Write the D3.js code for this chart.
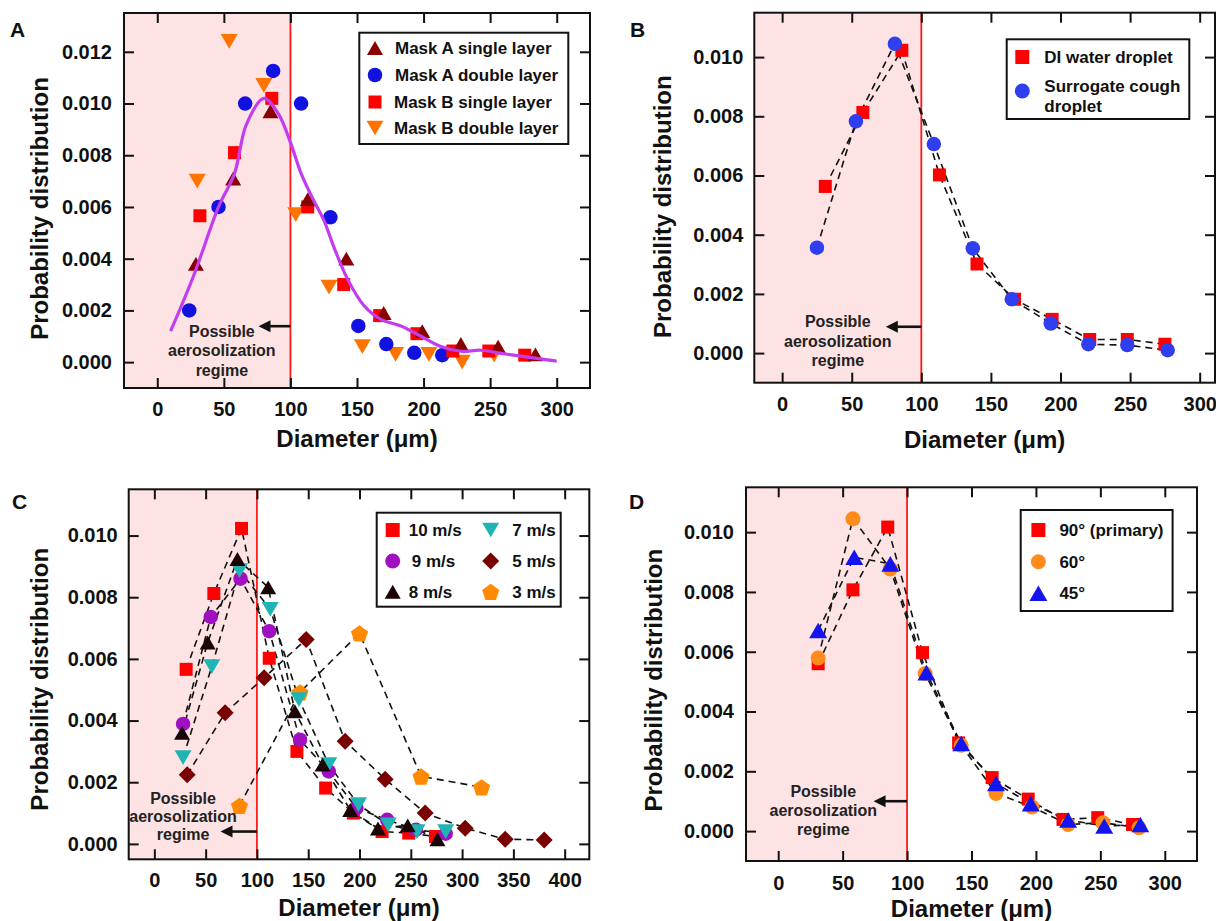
<!DOCTYPE html>
<html>
<head>
<meta charset="utf-8">
<script src="https://cdn.jsdelivr.net/npm/d3@7"></script>
<style>
  body { margin: 0; background: #fff; }
  svg { display: block; font-family: "Liberation Sans", Arial, sans-serif; font-weight: bold; }
</style>
</head>
<body>
<svg id="fig" width="1216" height="921"></svg>
<script>
// ---- Panel A : masks ----
const aSingleX = [29, 57, 85, 113, 142, 170, 199, 228, 256, 284];
const aSingleY = [0.0038, 0.0071, 0.0097, 0.0063, 0.0040, 0.0019, 0.0012, 0.0007, 0.0006, 0.0003];
const aDoubleX = [24, 46, 66, 87, 108, 130, 151, 172, 193, 214];
const aDoubleY = [0.0020, 0.0060, 0.0100, 0.01126, 0.0100, 0.0056, 0.0014, 0.0007, 0.00036, 0.00027];
const bSingleX = [32, 58, 86, 113, 140, 167, 195, 222, 249, 276];
const bSingleY = [0.00566, 0.0081, 0.0102, 0.0060, 0.0030, 0.0018, 0.0011, 0.00043, 0.00043, 0.00027];
const bDoubleX = [30, 54, 80, 104, 129, 154, 179, 204, 229, 253];
const bDoubleY = [0.0070, 0.0124, 0.0107, 0.0057, 0.0029, 0.0006, 0.0003, 0.0003, 0.0000, 0.00027];
// fitted curve (magenta)
const fitX = [10, 27, 46, 58, 67, 80, 91, 100, 108, 117, 125, 133, 143, 155, 168, 183, 198, 213, 228, 243, 258, 273, 300];
const fitY = [0.0012, 0.0033, 0.0060, 0.0073, 0.0092, 0.0102, 0.0096, 0.0085, 0.0073, 0.0063, 0.0055, 0.0044, 0.0032, 0.0022, 0.00165, 0.0014, 0.0010, 0.0006, 0.00042, 0.00046, 0.00034, 0.00023, 0.00004];

// ---- Panel B : fluids ----
const diX = [31, 58, 86, 113, 140, 167, 194, 221, 248, 275];
const diY = [0.00563, 0.00813, 0.01023, 0.00602, 0.00301, 0.00182, 0.00114, 0.00046, 0.00046, 0.0003];
const coughX = [25, 53, 81, 109, 137, 165, 193, 220, 248, 277];
const coughY = [0.00356, 0.00783, 0.01045, 0.00706, 0.00354, 0.00182, 0.0010, 0.0003, 0.00027, 0.0001];

// ---- Panel C : velocities ----
const c10X = [31, 58, 85, 112, 139, 167, 194, 222, 248, 274];
const c10Y = [0.00566, 0.00812, 0.01023, 0.00602, 0.0030, 0.00181, 0.0010, 0.0004, 0.00035, 0.00024];
const c9X = [28, 55, 84, 112, 142, 170, 197, 227, 255, 284];
const c9Y = [0.00389, 0.00736, 0.0086, 0.0069, 0.00338, 0.00235, 0.00116, 0.00078, 0.00046, 0.00033];
const c8X = [27, 52, 81, 111, 137, 164, 191, 218, 247, 276];
const c8Y = [0.0036, 0.00653, 0.00924, 0.00832, 0.0043, 0.00257, 0.0011, 0.0005, 0.0006, 0.00015];
const c7X = [28, 56, 83, 113, 141, 170, 199, 228, 256, 284];
const c7Y = [0.0028, 0.00575, 0.00886, 0.00761, 0.00468, 0.00257, 0.00127, 0.00062, 0.0004, 0.0004];
const c5X = [32, 69, 107, 148, 186, 225, 264, 303, 342, 380];
const c5Y = [0.00224, 0.00425, 0.00539, 0.00663, 0.00333, 0.0021, 0.001, 0.00051, 0.00015, 0.00013];
const c3X = [83, 142, 200, 260, 319];
const c3Y = [0.00124, 0.00492, 0.00683, 0.00219, 0.00184];

// ---- Panel D : angles ----
const d90X = [31, 58, 85, 112, 140, 166, 194, 221, 248, 275];
const d90Y = [0.0056, 0.00807, 0.01017, 0.00597, 0.00295, 0.00179, 0.00107, 0.00039, 0.00045, 0.00022];
const d60X = [31, 58, 87, 114, 142, 169, 197, 225, 252, 280];
const d60Y = [0.00579, 0.01045, 0.00877, 0.00527, 0.00287, 0.00126, 0.00081, 0.00022, 0.00028, 0.00011];
const d45X = [31, 59, 87, 115, 142, 169, 196, 225, 253, 281];
const d45Y = [0.00671, 0.00916, 0.00894, 0.0053, 0.00293, 0.00159, 0.00092, 0.00037, 0.00017, 0.00022];

// ticks
const xTicks300 = [0, 50, 100, 150, 200, 250, 300];
const xTicks400 = [0, 50, 100, 150, 200, 250, 300, 350, 400];
const yTicks12 = [0, 0.002, 0.004, 0.006, 0.008, 0.010, 0.012];
const yTicks10 = [0, 0.002, 0.004, 0.006, 0.008, 0.010];

const aerosolText = ['Possible', 'aerosolization', 'regime'];

const svg = d3.select('#fig');
const zip = (xs, ys) => xs.map((v, i) => [v, ys[i]]);

function markerPath(type, s) {
  const r = s / 2;
  if (type === 'square') return `M${-r},${-r}H${r}V${r}H${-r}Z`;
  if (type === 'circle') return `M${r},0A${r},${r} 0 1,1 ${-r},0A${r},${r} 0 1,1 ${r},0Z`;
  const hh = s * Math.sqrt(3) / 2;
  if (type === 'triUp') return `M0,${-hh / 2}L${r},${hh / 2}L${-r},${hh / 2}Z`;
  if (type === 'triDown') return `M0,${hh / 2}L${r},${-hh / 2}L${-r},${-hh / 2}Z`;
  if (type === 'diamond') return `M0,${-r}L${r},0L0,${r}L${-r},0Z`;
  // pentagon
  const pts = d3.range(5).map(k => {
    const a = -Math.PI / 2 + k * 2 * Math.PI / 5;
    return [r * Math.cos(a), r * Math.sin(a) + 1];
  });
  return d3.line()(pts) + 'Z';
}

function drawPanel(cfg) {
  const w = cfg.right - cfg.left, h = cfg.bottom - cfg.top;
  const g = svg.append('g').attr('transform', `translate(${cfg.left},${cfg.top})`);
  const x = d3.scaleLinear().domain(cfg.xDomain).range([0, w]);
  const y = d3.scaleLinear().domain(cfg.yDomain).range([h, 0]);

  // aerosolization regime shading
  g.append('rect').attr('x', 0).attr('y', 0)
    .attr('width', x(100)).attr('height', h)
    .attr('fill', '#fde3e3');
  g.append('line')
    .attr('x1', x(100)).attr('x2', x(100)).attr('y1', 0).attr('y2', h)
    .attr('stroke', '#ff1a1a').attr('stroke-width', 1.8);

  // axes with inward ticks on all four sides
  const fmtY = d3.format('.3f');
  const axB = g.append('g').attr('transform', `translate(0,${h})`)
    .call(d3.axisBottom(x).tickValues(cfg.xTicks).tickSize(-10).tickPadding(cfg.xPad).tickFormat(d3.format('d')));
  const axT = g.append('g')
    .call(d3.axisTop(x).tickValues(cfg.xTicks).tickSize(-10).tickFormat(''));
  const axL = g.append('g')
    .call(d3.axisLeft(y).tickValues(cfg.yTicks).tickSize(-10).tickPadding(cfg.yPad).tickFormat(fmtY));
  const axR = g.append('g').attr('transform', `translate(${w},0)`)
    .call(d3.axisRight(y).tickValues(cfg.yTicks).tickSize(-10).tickFormat(''));
  [axB, axT, axL, axR].forEach(a => {
    a.select('.domain').remove();
    a.selectAll('line').attr('stroke', '#111').attr('stroke-width', 2);
    a.selectAll('text').attr('fill', '#111')
      .style('font-size', '20px').style('font-family', '"Liberation Sans", Arial, sans-serif')
      .style('font-weight', 'bold');
  });

  g.append('rect').attr('width', w).attr('height', h)
    .attr('fill', 'none').attr('stroke', '#111').attr('stroke-width', 2);

  const line = d3.line().x(d => x(d[0])).y(d => y(d[1]));

  // dashed connecting lines
  cfg.series.filter(s => s.dashed).forEach(s => {
    g.append('path').datum(zip(s.xs, s.ys))
      .attr('d', line).attr('fill', 'none')
      .attr('stroke', '#111').attr('stroke-width', 1.6)
      .attr('stroke-dasharray', '7,5');
  });

  // markers
  cfg.series.forEach(s => {
    g.append('g').selectAll('path')
      .data(zip(s.xs, s.ys))
      .join('path')
      .attr('transform', d => `translate(${x(d[0])},${y(d[1])})`)
      .attr('d', markerPath(s.shape, s.size))
      .attr('fill', s.color);
  });

  // fitted curve
  if (cfg.fit) {
    g.append('path').datum(zip(cfg.fit.xs, cfg.fit.ys))
      .attr('d', d3.line().x(d => x(d[0])).y(d => y(d[1])).curve(d3.curveCatmullRom.alpha(0.5)))
      .attr('fill', 'none').attr('stroke', cfg.fit.color).attr('stroke-width', 3.2);
  }

  // annotation
  const an = cfg.note;
  const t = g.append('text').attr('text-anchor', 'middle')
    .attr('fill', '#222').style('font-size', '16px');
  aerosolText.forEach((s, i) => {
    t.append('tspan').attr('x', x(an.tx)).attr('y', y(an.ty) + i * an.lh).text(s);
  });
  const ay = y(an.ay), ax0 = x(100), ax1 = x(an.ax);
  g.append('line').attr('x1', ax0).attr('x2', ax1 + 8).attr('y1', ay).attr('y2', ay)
    .attr('stroke', '#111').attr('stroke-width', 2.6);
  g.append('path')
    .attr('d', `M${ax1},${ay}L${ax1 + 12},${ay - 6}L${ax1 + 12},${ay + 6}Z`)
    .attr('fill', '#111');

  // legend
  const lg = cfg.legend;
  g.append('rect').attr('x', lg.box[0]).attr('y', lg.box[1])
    .attr('width', lg.box[2] - lg.box[0]).attr('height', lg.box[3] - lg.box[1])
    .attr('fill', '#fff').attr('stroke', '#111').attr('stroke-width', 2);
  lg.items.forEach(it => {
    g.append('path')
      .attr('transform', `translate(${it.sx},${it.sy})`)
      .attr('d', markerPath(it.shape, it.size)).attr('fill', it.color);
    const tt = g.append('text').attr('fill', '#111').style('font-size', '17px');
    it.label.forEach((s, i) => {
      tt.append('tspan').attr('x', it.tx).attr('y', it.ty + i * 20).text(s);
    });
  });

  // titles
  svg.append('text').attr('x', cfg.left + w / 2).attr('y', cfg.xTitleY)
    .attr('text-anchor', 'middle').attr('fill', '#111').style('font-size', '24px')
    .text('Diameter (μm)');
  svg.append('text')
    .attr('transform', `translate(${cfg.yTitleX},${cfg.top + h / 2 + cfg.yTitleShift}) rotate(-90)`)
    .attr('text-anchor', 'middle').attr('fill', '#111').style('font-size', '24px')
    .text('Probability distribution');
  svg.append('text').attr('x', cfg.letterX).attr('y', cfg.letterY)
    .attr('fill', '#111').style('font-size', '21px').text(cfg.letter);
}

// Panel A
drawPanel({
  letter: 'A', letterX: 10, letterY: 37,
  left: 124, top: 13, right: 590, bottom: 388,
  xDomain: [-25, 325], yDomain: [-0.001, 0.0135],
  xTicks: xTicks300, yTicks: yTicks12, xPad: 14, yPad: 12,
  xTitleY: 447, yTitleX: 48, yTitleShift: 8,
  series: [
    {xs: bDoubleX, ys: bDoubleY, shape: 'triDown', size: 17, color: '#ff7400'},
    {xs: aDoubleX, ys: aDoubleY, shape: 'circle', size: 14.5, color: '#1212e0'},
    {xs: bSingleX, ys: bSingleY, shape: 'square', size: 13, color: '#ff0000'},
    {xs: aSingleX, ys: aSingleY, shape: 'triUp', size: 16, color: '#880000'}
  ],
  fit: {xs: fitX, ys: fitY, color: '#c43cf0'},
  note: {tx: 48.5, ty: 0.00099, lh: 19.5, ax: 76, ay: 0.00139},
  legend: {
    box: [235.3, 19.7, 444.3, 131],
    items: [
      {shape: 'triUp', size: 16, color: '#880000', sx: 251, sy: 35, tx: 271, ty: 41, label: ['Mask A single layer']},
      {shape: 'circle', size: 14.5, color: '#1212e0', sx: 251, sy: 62, tx: 271, ty: 68, label: ['Mask A double layer']},
      {shape: 'square', size: 13, color: '#ff0000', sx: 251, sy: 89, tx: 270, ty: 95, label: ['Mask B single layer']},
      {shape: 'triDown', size: 17, color: '#ff7400', sx: 251, sy: 115, tx: 270, ty: 121, label: ['Mask B double layer']}
    ]
  }
});

// Panel B
drawPanel({
  letter: 'B', letterX: 630, letterY: 37,
  left: 754.3, top: 12.7, right: 1215, bottom: 382.7,
  xDomain: [-20, 311], yDomain: [-0.001, 0.0115],
  xTicks: xTicks300, yTicks: yTicks10, xPad: 14, yPad: 11,
  xTitleY: 448, yTitleX: 671, yTitleShift: 9,
  series: [
    {xs: diX, ys: diY, shape: 'square', size: 13, color: '#ff0000', dashed: true},
    {xs: coughX, ys: coughY, shape: 'circle', size: 14.5, color: '#2f3ff0', dashed: true}
  ],
  note: {tx: 40, ty: 0.00087, lh: 19.5, ax: 74.5, ay: 0.00089},
  legend: {
    box: [252.4, 26.6, 435, 106.3],
    items: [
      {shape: 'square', size: 14, color: '#ff0000', sx: 268, sy: 44.3, tx: 290, ty: 50.3, label: ['DI water droplet']},
      {shape: 'circle', size: 15, color: '#2f3ff0', sx: 268, sy: 78.3, tx: 290, ty: 79.3, label: ['Surrogate cough', 'droplet']}
    ]
  }
});

// Panel C
drawPanel({
  letter: 'C', letterX: 12, letterY: 509,
  left: 128.7, top: 489.3, right: 589.3, bottom: 859.3,
  xDomain: [-25, 424], yDomain: [-0.0005, 0.0115],
  xTicks: xTicks400, yTicks: yTicks10, xPad: 14, yPad: 11,
  xTitleY: 916, yTitleX: 48, yTitleShift: 5,
  series: [
    {xs: c10X, ys: c10Y, shape: 'square', size: 13, color: '#ff0000', dashed: true},
    {xs: c5X, ys: c5Y, shape: 'diamond', size: 17, color: '#7a0000', dashed: true},
    {xs: c3X, ys: c3Y, shape: 'pentagon', size: 18, color: '#ff8a00', dashed: true},
    {xs: c9X, ys: c9Y, shape: 'circle', size: 14.5, color: '#a010c0', dashed: true},
    {xs: c7X, ys: c7Y, shape: 'triDown', size: 17, color: '#20b4b4', dashed: true},
    {xs: c8X, ys: c8Y, shape: 'triUp', size: 16, color: '#1a0404', dashed: true}
  ],
  note: {tx: 28, ty: 0.0013, lh: 18, ax: 64.5, ay: 0.0004},
  legend: {
    box: [248, 23.4, 432, 117.4],
    items: [
      {shape: 'square', size: 14, color: '#ff0000', sx: 264, sy: 40.7, tx: 280, ty: 46.7, label: ['10 m/s']},
      {shape: 'circle', size: 15, color: '#a010c0', sx: 264, sy: 71.7, tx: 283, ty: 77.7, label: ['9 m/s']},
      {shape: 'triUp', size: 16, color: '#1a0404', sx: 264, sy: 102.4, tx: 280, ty: 108.4, label: ['8 m/s']},
      {shape: 'triDown', size: 17, color: '#20b4b4', sx: 362, sy: 40.7, tx: 383.5, ty: 46.7, label: ['7 m/s']},
      {shape: 'diamond', size: 17, color: '#7a0000', sx: 362, sy: 71.7, tx: 383.5, ty: 77.7, label: ['5 m/s']},
      {shape: 'pentagon', size: 18, color: '#ff8a00', sx: 362, sy: 102.4, tx: 383.5, ty: 108.4, label: ['3 m/s']}
    ]
  }
});

// Panel D
drawPanel({
  letter: 'D', letterX: 629, letterY: 509,
  left: 746, top: 487.3, right: 1197, bottom: 861,
  xDomain: [-25, 325], yDomain: [-0.001, 0.0115],
  xTicks: xTicks300, yTicks: yTicks10, xPad: 15, yPad: 12,
  xTitleY: 917, yTitleX: 662, yTitleShift: 6,
  series: [
    {xs: d90X, ys: d90Y, shape: 'square', size: 13, color: '#ff0000', dashed: true},
    {xs: d60X, ys: d60Y, shape: 'circle', size: 15, color: '#ff8c1a', dashed: true},
    {xs: d45X, ys: d45Y, shape: 'triUp', size: 18, color: '#1414ee', dashed: true}
  ],
  note: {tx: 35, ty: 0.00115, lh: 19, ax: 74, ay: 0.001},
  legend: {
    box: [274.7, 22.7, 426.6, 123.7],
    items: [
      {shape: 'square', size: 14, color: '#ff0000', sx: 292.4, sy: 42.7, tx: 313.4, ty: 48.7, label: ['90° (primary)']},
      {shape: 'circle', size: 15, color: '#ff8c1a', sx: 292.4, sy: 74.4, tx: 313.4, ty: 80.4, label: ['60°']},
      {shape: 'triUp', size: 18, color: '#1414ee', sx: 292.4, sy: 106, tx: 313.4, ty: 112, label: ['45°']}
    ]
  }
});
</script>
</body>
</html>
